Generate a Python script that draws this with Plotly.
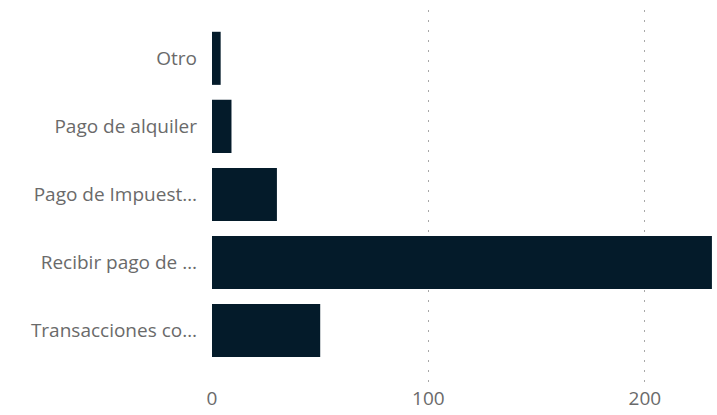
import plotly.graph_objects as go

categories = ["Otro", "Pago de alquiler", "Pago de Impuest…", "Recibir pago de …", "Transacciones co…"]
values = [4, 9, 30, 231, 50]
x_ticks = [0, 100, 200]

fig = go.Figure(go.Bar(
    x=values, y=categories, orientation="h",
    marker=dict(color="#041b2a", line=dict(width=0)),
    width=0.78,
))

fig.update_layout(
    width=717, height=415,
    margin=dict(l=212, r=4, t=10, b=30, autoexpand=False),
    paper_bgcolor="white", plot_bgcolor="white",
    font=dict(family="Open Sans, Noto Sans, sans-serif", size=19, color="#6a6a6a"),
    showlegend=False,
)
fig.update_xaxes(
    range=[0, 231.5], tickvals=x_ticks, showgrid=True, gridcolor="#a8a8a8",
    griddash="2px,8px", gridwidth=1, zeroline=False, showline=False, ticks="",
    ticklabelstandoff=0, automargin=False,
)
fig.update_yaxes(
    categoryorder="array", categoryarray=categories,
    range=[4.8, -0.71], showgrid=False, zeroline=False, showline=False,
    ticks="", ticklabelstandoff=14, automargin=False,
)

fig.write_html(
    "out.html",
    config={"displayModeBar": False},
    post_script="document.body.style.margin='0';document.body.style.overflow='hidden';",
)
